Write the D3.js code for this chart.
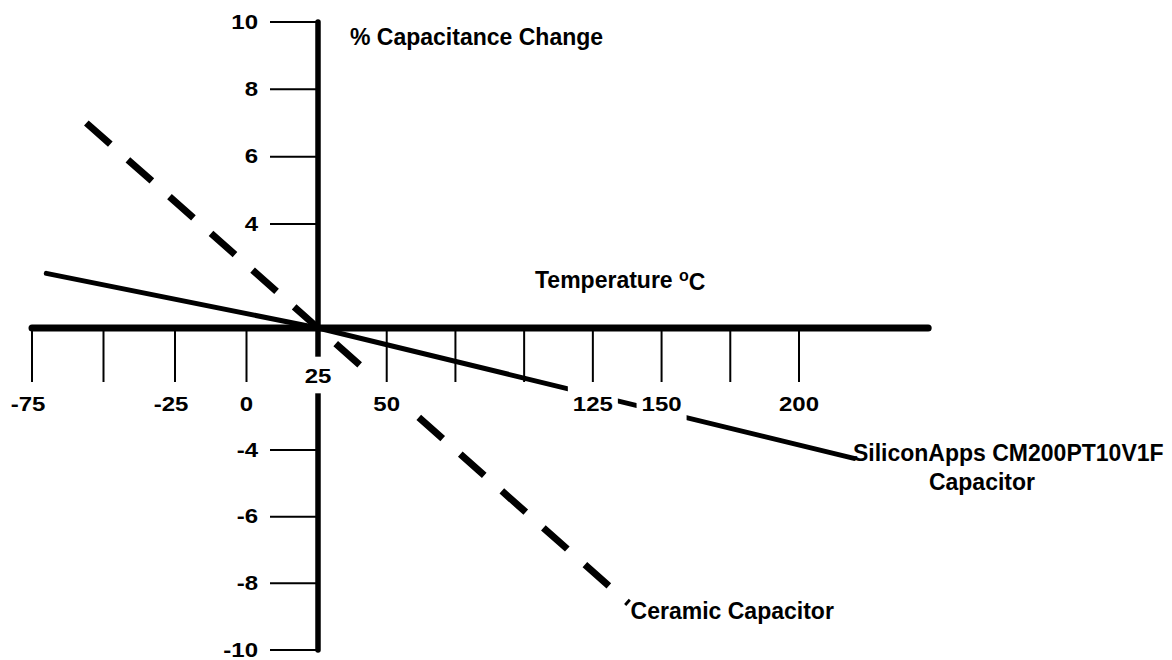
<!DOCTYPE html>
<html>
<head>
<meta charset="utf-8">
<script src="https://cdn.jsdelivr.net/npm/d3@7"></script>
<style>
  body { margin: 0; background: #ffffff; }
  text { font-family: "Liberation Sans", Arial, sans-serif; font-weight: bold; fill: #000; }
</style>
</head>
<body>
<svg id="chart"></svg>
<script>
const width = 1172, height = 660;

// Temperature (deg C) tick marks and the labels written under them
const tempTicks = [-75, -50, -25, 0, 50, 75, 100, 125, 150, 175, 200];
const tempLabels = [-75, -25, 0, 25, 50, 125, 150, 200];
const tempExtent = [-75, 247];

// % capacitance change ticks
const capTicks = [10, 8, 6, 4, -4, -6, -8, -10];
const capExtent = [-10, 10];

// Series
const siliconTemp = [-70, 25, 220];
const siliconChange = [2.1, 0, -4.25];
const ceramicTemp = [-56, 25, 138];
const ceramicChange = [7.0, 0, -8.6];

// Tick numbers in the original are drawn a little wide
const tickStretch = 1.2;

const svg = d3.select("#chart")
  .attr("width", width)
  .attr("height", height)
  .style("background", "#ffffff");

// The hand drawn axes are not evenly spaced, so both scales are piecewise
const x = d3.scaleLinear()
  .domain([-75, 25, 200])
  .range([32, 318, 799]);
const y = d3.scaleLinear()
  .domain([-10, -4, 0, 4, 10])
  .range([650, 450, 328, 224, 22]);

const line = d3.line()
  .x(d => x(d[0]))
  .y(d => y(d[1]));

// Ceramic capacitor, thick dashed
svg.append("path")
  .datum(d3.zip(ceramicTemp, ceramicChange))
  .attr("d", line)
  .attr("fill", "none")
  .attr("stroke", "#000")
  .attr("stroke-width", 7)
  .attr("stroke-dasharray", "32,23.5");

// SiliconApps capacitor, solid
svg.append("path")
  .datum(d3.zip(siliconTemp, siliconChange))
  .attr("d", line)
  .attr("fill", "none")
  .attr("stroke", "#000")
  .attr("stroke-width", 5)
  .attr("stroke-linecap", "round");

// Temperature axis: heavy line
svg.append("line")
  .attr("x1", x(tempExtent[0])).attr("x2", x(tempExtent[1]))
  .attr("y1", y(0)).attr("y2", y(0))
  .attr("stroke", "#000")
  .attr("stroke-width", 7)
  .attr("stroke-linecap", "round");

// Capacitance axis crosses at 25 deg C
svg.append("line")
  .attr("x1", x(25)).attr("x2", x(25))
  .attr("y1", y(capExtent[1])).attr("y2", y(capExtent[0]))
  .attr("stroke", "#000")
  .attr("stroke-width", 5.5)
  .attr("stroke-linecap", "round");

svg.append("g")
  .selectAll("line")
  .data(capTicks)
  .enter()
  .append("line")
    .attr("x1", x(25) - 48).attr("x2", x(25))
    .attr("y1", d => y(d)).attr("y2", d => y(d))
    .attr("stroke", "#000")
    .attr("stroke-width", 2);

svg.append("g")
  .selectAll("text")
  .data(capTicks)
  .enter()
  .append("text")
    .attr("transform", d => `translate(${x(25) - 60},${y(d)}) scale(${tickStretch},1)`)
    .attr("text-anchor", "end")
    .attr("dominant-baseline", "central")
    .style("font-size", "20px")
    .text(d => d);

// Temperature labels sit on white boxes that knock out the lines behind them
const tempLabel = svg.append("g")
  .selectAll("g")
  .data(tempLabels)
  .enter()
  .append("g")
    .attr("transform", d => {
      const px = x(d) - (d < 0 ? 4 : 0);
      const py = d === 25 ? y(0) + 48 : y(0) + 76;
      return `translate(${px},${py}) scale(${tickStretch},1)`;
    });

tempLabel.append("rect")
  .attr("fill", "#ffffff");

tempLabel.append("text")
  .attr("text-anchor", "middle")
  .attr("dominant-baseline", "central")
  .style("font-size", "20px")
  .text(d => d);

tempLabel.each(function(d) {
  const g = d3.select(this);
  const b = g.select("text").node().getBBox();
  const padX = 5 / tickStretch;
  const padTop = d === 25 ? 8 : 16;
  g.select("rect")
    .attr("x", b.x - padX)
    .attr("y", b.y - padTop)
    .attr("width", b.width + 2 * padX)
    .attr("height", b.height + padTop + 6);
});

// Temperature ticks hang below the axis, drawn over the label boxes
svg.append("g")
  .selectAll("line")
  .data(tempTicks)
  .enter()
  .append("line")
    .attr("x1", d => x(d)).attr("x2", d => x(d))
    .attr("y1", y(0)).attr("y2", y(0) + 54)
    .attr("stroke", "#000")
    .attr("stroke-width", 2);

// Axis titles
svg.append("text")
  .attr("x", x(25) + 32)
  .attr("y", 37)
  .attr("dominant-baseline", "central")
  .style("font-size", "23px")
  .text("% Capacitance Change");

const tTitle = svg.append("text")
  .attr("x", 535)
  .attr("y", 280)
  .attr("dominant-baseline", "central")
  .style("font-size", "23px");
tTitle.append("tspan").text("Temperature ");
tTitle.append("tspan")
  .attr("dy", "-0.3em")
  .style("font-size", "16px")
  .text("o");
tTitle.append("tspan")
  .attr("dy", "0.3em")
  .text("C");

// Series labels at the line ends
const sEnd = [siliconTemp[2], siliconChange[2]];
svg.append("text")
  .attr("x", x(sEnd[0]) - 1)
  .attr("y", y(sEnd[1]) - 5)
  .attr("dominant-baseline", "central")
  .style("font-size", "23px")
  .text("SiliconApps CM200PT10V1F");
svg.append("text")
  .attr("x", x(sEnd[0]) + 128)
  .attr("y", y(sEnd[1]) + 24)
  .attr("text-anchor", "middle")
  .attr("dominant-baseline", "central")
  .style("font-size", "23px")
  .text("Capacitor");

const cEnd = [ceramicTemp[2], ceramicChange[2]];
svg.append("text")
  .attr("x", x(cEnd[0]) + 2)
  .attr("y", y(cEnd[1]) + 8)
  .attr("dominant-baseline", "central")
  .style("font-size", "23px")
  .text("Ceramic Capacitor");
</script>
</body>
</html>
